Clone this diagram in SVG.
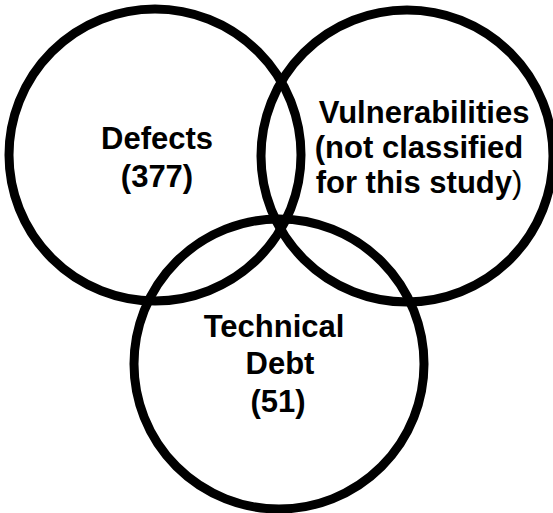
<svg xmlns="http://www.w3.org/2000/svg" width="553" height="513" viewBox="0 0 553 513">
  <style>
    .set { fill: none; stroke: #000; stroke-width: 9; }
    .lbl { font-family: "Liberation Sans", Arial, sans-serif; font-weight: bold; font-size: 31px; fill: #000; text-anchor: middle; }
    .thin { font-weight: normal; }
  </style>
  <rect width="553" height="513" fill="#fff"/>
  <g id="defects">
    <circle class="set" cx="155" cy="155" r="146"/>
    <text class="lbl" x="157" y="149">Defects</text>
    <text class="lbl" x="157" y="187">(377)</text>
  </g>
  <g id="vulnerabilities">
    <circle class="set" cx="407" cy="156" r="146"/>
    <text class="lbl" x="424" y="123">Vulnerabilities</text>
    <text class="lbl" x="419" y="158">(not classified</text>
    <text class="lbl" x="419" y="193">for this study<tspan class="thin">)</tspan></text>
  </g>
  <g id="technical-debt">
    <circle class="set" cx="279" cy="364" r="145"/>
    <text class="lbl" x="274" y="337">Technical</text>
    <text class="lbl" x="280" y="374">Debt</text>
    <text class="lbl" x="278" y="412">(51)</text>
  </g>
  <g id="connectors"/>
</svg>
